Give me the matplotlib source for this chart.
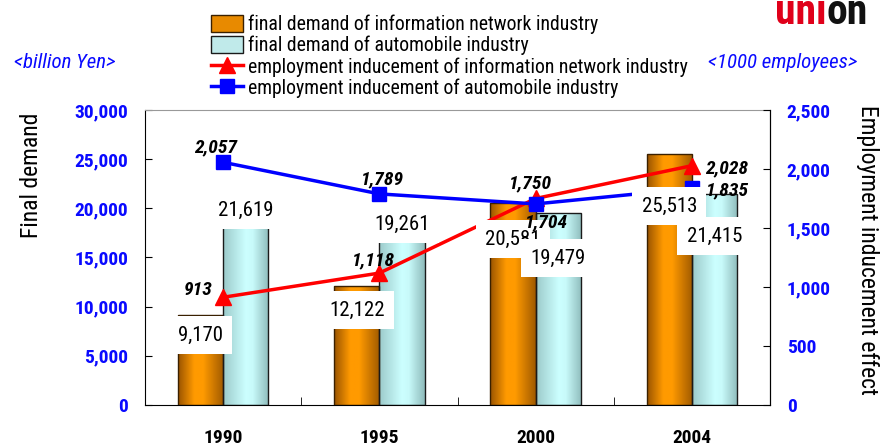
import numpy as np
import matplotlib
matplotlib.use("Agg")
import matplotlib.pyplot as plt
from matplotlib.colors import LinearSegmentedColormap
from matplotlib.patches import Patch
from matplotlib.lines import Line2D
from matplotlib import font_manager

names = {f.name for f in font_manager.fontManager.ttflist}
if "Roboto Condensed" in names:
    main_font, k = "Roboto Condensed", 1.0
else:
    main_font, k = "Liberation Sans", 0.85
plt.rcParams["font.family"] = [main_font, "DejaVu Sans"]

# data
years = ["1990", "1995", "2000", "2004"]
info_demand = [9170, 12122, 20581, 25513]
auto_demand = [21619, 19261, 19479, 21415]
info_employ = [913, 1118, 1750, 2028]
auto_employ = [2057, 1789, 1704, 1835]

# label positions (y in data units)
info_lab_y = [7100, 9660, 16880, 20240]
auto_lab_y = [19830, 18410, 14950, 17190]
info_emp_lab = [(-0.16, 975), (0.96, 1229), (1.97, 1881), (3.22, 2008)]
auto_emp_lab = [(-0.05, 2186), (1.02, 1915), (2.07, 1551), (3.23, 1822)]

fig = plt.figure(figsize=(8.83, 4.46), dpi=100)
ax = fig.add_axes([145 / 883, 41 / 446, 625 / 883, 295 / 446])
ax2 = ax.twinx()

x = np.arange(len(years))
w = 0.29

orange_cmap = LinearSegmentedColormap.from_list(
    "og", [(0, "#9a5400"), (0.35, "#ff9a00"), (0.55, "#ff9a00"), (1, "#a05a00")])
cyan_cmap = LinearSegmentedColormap.from_list(
    "cy", [(0, "#9ccaca"), (0.5, "#ccffff"), (0.65, "#c8fafa"), (1, "#8fbcbc")])
grad = np.linspace(0, 1, 100).reshape(1, -1)

b1 = ax.bar(x - w / 2, info_demand, w, color="none", edgecolor="#3a2000", lw=1, zorder=3)
b2 = ax.bar(x + w / 2, auto_demand, w, color="none", edgecolor="#1a1a1a", lw=1, zorder=3)
for bars, cmap in ((b1, orange_cmap), (b2, cyan_cmap)):
    for r in bars:
        x0, y0 = r.get_x(), r.get_y()
        im = ax.imshow(grad, cmap=cmap, aspect="auto", zorder=2,
                       extent=(x0, x0 + r.get_width(), y0, y0 + r.get_height()))
        im.set_clip_path(r)

ax.set_xlim(-0.5, 3.5)
ax.set_ylim(0, 30000)
ax2.set_ylim(0, 2500)
ax.set_yticks(np.arange(0, 30001, 5000))
ax2.set_yticks(np.arange(0, 2501, 500))
ax.set_yticklabels([f"{v:,}" for v in range(0, 30001, 5000)])
ax2.set_yticklabels([f"{v:,}" for v in range(0, 2501, 500)])
ax.set_xticks(x)
ax.set_xticklabels(years, fontsize=14 * k, fontweight="bold")
ax.set_xticks([0.5, 1.5, 2.5], minor=True)
ax.tick_params(axis="x", which="major", length=0, pad=17)
ax.tick_params(axis="x", which="minor", direction="in", length=6)
ax.tick_params(axis="y", direction="in", length=5, labelcolor="#0a0aff",
               labelsize=14 * k, pad=12)
ax2.tick_params(axis="y", direction="in", length=5, labelcolor="#0a0aff",
                labelsize=14 * k, pad=12)
for lab in ax.get_yticklabels() + ax2.get_yticklabels():
    lab.set_fontweight("bold")
ax.spines["top"].set_color("#999999")
for s in ax2.spines.values():
    s.set_visible(False)
ax2.spines["right"].set_visible(True)
ax2.patch.set_visible(False)

ax2.plot(x, info_employ, color="#ff0000", lw=2.5, marker="^", ms=11, zorder=4)
ax2.plot(x, auto_employ, color="#0000ff", lw=2.5, marker="s", ms=10, zorder=4)

# bar value labels with white boxes (drawn over the lines)
for i in range(len(years)):
    ax2.text(x[i] - w / 2, info_lab_y[i], f"{info_demand[i]:,}", transform=ax.transData,
             ha="center", va="center", fontsize=15 * k, zorder=6,
             bbox=dict(boxstyle="square,pad=0.45", fc="white", ec="none"))
    ax2.text(x[i] + w / 2, auto_lab_y[i], f"{auto_demand[i]:,}", transform=ax.transData,
             ha="center", va="center", fontsize=15 * k, zorder=6,
             bbox=dict(boxstyle="square,pad=0.45", fc="white", ec="none"))
for i in range(len(years)):
    ax2.text(*info_emp_lab[i], f"{info_employ[i]:,}", ha="center", va="center",
             fontsize=14 * k, fontweight="bold", fontstyle="italic", zorder=7)
    ax2.text(*auto_emp_lab[i], f"{auto_employ[i]:,}", ha="center", va="center",
             fontsize=14 * k, fontweight="bold", fontstyle="italic", zorder=7)

fig.text(32 / 883, 1 - 175 / 446, "Final demand", rotation=90, ha="center",
         va="center", fontsize=17 * k)
fig.text(868 / 883, 1 - 250 / 446, "Employment inducement effect", rotation=270,
         ha="center", va="center", fontsize=17 * k)
fig.text(65 / 883, 1 - 63 / 446, "<billion Yen>", color="#0a0aff", fontsize=15 * k,
         fontstyle="italic", ha="center", va="center")
fig.text(783 / 883, 1 - 63 / 446, "<1000 employees>", color="#0a0aff", fontsize=15 * k,
         fontstyle="italic", ha="center", va="center")

# logo, cut off at the top edge
renderer = fig.canvas.get_renderer()
t1 = fig.text(775 / 883, 1 - 24 / 446, "uni", color="#e0001a", fontsize=30 * k,
              fontweight="bold", va="baseline", ha="left")
bb = t1.get_window_extent(renderer)
fig.text(bb.x1 / fig.bbox.width, 1 - 24 / 446, "on", color="#111111",
         fontsize=30 * k, fontweight="bold", va="baseline", ha="left")

handles = [
    Patch(facecolor="#e88a00", edgecolor="#3a2000"),
    Patch(facecolor="#c0eaea", edgecolor="#1a1a1a"),
    Line2D([], [], color="#ff0000", lw=2.5, marker="^", ms=11),
    Line2D([], [], color="#0000ff", lw=2.5, marker="s", ms=10),
]
labels = [
    "final demand of information network industry",
    "final demand of automobile industry",
    "employment inducement of information network industry",
    "employment inducement of automobile industry",
]
fig.legend(handles, labels, loc="upper left", bbox_to_anchor=(201 / 883, 1 - 5 / 446),
           frameon=False, fontsize=14.2 * k, handlelength=1.65, handleheight=0.95,
           handletextpad=0.25, labelspacing=0.08, borderpad=0)

fig.savefig("out.png", dpi=100)
